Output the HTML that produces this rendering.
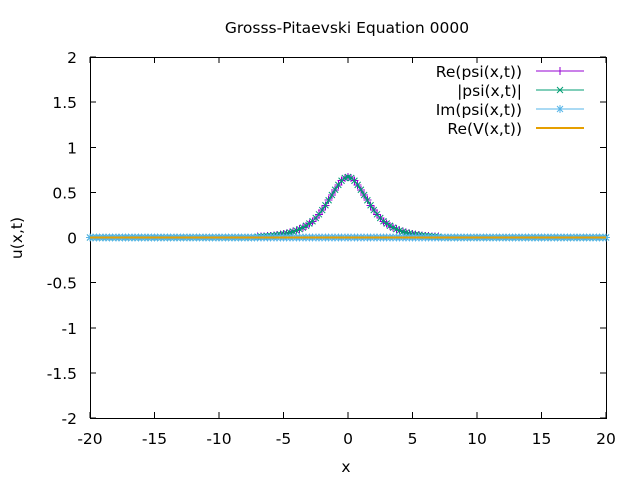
<!DOCTYPE html>
<html><head><meta charset="utf-8"><style>
body{margin:0;background:#fff}
svg{font-family:"DejaVu Sans","Liberation Sans",sans-serif;font-size:15.5px}
</style></head><body>
<svg id="c" width="640" height="480">
<rect width="640" height="480" fill="#fff"/>
<text x="347" y="33" text-anchor="middle">Grosss-Pitaevski Equation 0000</text>
<text x="346" y="472" text-anchor="middle">x</text>
<text x="22" y="238" text-anchor="middle" transform="rotate(-90 22 238)">u(x,t)</text>
<g id="axes" shape-rendering="crispEdges"></g>
<g id="plot" shape-rendering="crispEdges"></g>
<g id="legend" shape-rendering="crispEdges"></g>
</svg>
<script>
const xTicks=[-20,-15,-10,-5,0,5,10,15,20];
const yTicks=[-2,-1.5,-1,-0.5,0,0.5,1,1.5,2];
const yTickLabels=["-2","-1.5","-1","-0.5","0","0.5","1","1.5","2"];
const xDomain=[-20,20], yDomain=[-2,2];
const profileX=[-7,-6.75,-6.5,-6.25,-6,-5.75,-5.5,-5.25,-5,-4.75,-4.5,-4.25,-4,-3.75,-3.5,-3.25,-3,-2.75,-2.5,-2.25,-2,-1.75,-1.5,-1.25,-1,-0.75,-0.5,-0.25,0,0.25,0.5,0.75,1,1.25,1.5,1.75,2,2.25,2.5,2.75,3,3.25,3.5,3.75,4,4.25,4.5,4.75,5,5.25,5.5,5.75,6,6.25,6.5,6.75,7];
const rePsi=[0.009,0.011,0.013,0.015,0.018,0.022,0.026,0.032,0.038,0.045,0.054,0.064,0.077,0.092,0.109,0.130,0.155,0.180,0.216,0.257,0.304,0.357,0.413,0.471,0.529,0.583,0.629,0.659,0.670,0.659,0.629,0.583,0.529,0.471,0.413,0.357,0.304,0.257,0.216,0.180,0.155,0.130,0.109,0.092,0.077,0.064,0.054,0.045,0.038,0.032,0.026,0.022,0.018,0.015,0.013,0.011,0.009];
const absPsi=[0.009,0.011,0.013,0.015,0.018,0.022,0.026,0.032,0.038,0.045,0.054,0.064,0.077,0.092,0.109,0.130,0.155,0.180,0.216,0.257,0.304,0.357,0.413,0.471,0.529,0.583,0.629,0.659,0.670,0.659,0.629,0.583,0.529,0.471,0.413,0.357,0.304,0.257,0.216,0.180,0.155,0.130,0.109,0.092,0.077,0.064,0.054,0.045,0.038,0.032,0.026,0.022,0.018,0.015,0.013,0.011,0.009];
const tailLeftX=[-20,-7], tailRightX=[7,20];
const imPsiLevel=0;
const reV=[0,0];
const L=90,R=606,T=57,B=418;
const sx=v=>L+(v-xDomain[0])/(xDomain[1]-xDomain[0])*(R-L);
const sy=v=>B-(v-yDomain[0])/(yDomain[1]-yDomain[0])*(B-T);
const NS="http://www.w3.org/2000/svg";
function mk(tag,attrs,parent){const e=document.createElementNS(NS,tag);for(const k in attrs)e.setAttribute(k,attrs[k]);parent.appendChild(e);return e;}
const axes=document.getElementById('axes'),plot=document.getElementById('plot'),leg=document.getElementById('legend');
let fr=mk('rect',{x:L+0.5,y:T+0.5,width:R-L,height:B-T,fill:'none',stroke:'#000','stroke-width':1},axes);


xTicks.forEach(t=>{const x=sx(t);
 mk('line',{x1:x,y1:B,x2:x,y2:B-6,stroke:'#000'},axes);mk('line',{x1:x,y1:T,x2:x,y2:T+6,stroke:'#000'},axes);
 const tx=mk('text',{x:x,y:B+26,'text-anchor':'middle'},axes);tx.textContent=t;
 
 });
yTicks.forEach((t,i)=>{const y=sy(t);
 mk('line',{x1:L,y1:y,x2:L+6,y2:y,stroke:'#000'},axes);mk('line',{x1:R,y1:y,x2:R-6,y2:y,stroke:'#000'},axes);
 const tx=mk('text',{x:L-13,y:y+6,'text-anchor':'end'},axes);tx.textContent=yTickLabels[i];
 
 });
function marker(type,x,y,c,g){
 const s=4;
 if(type==='+'||type==='*'){mk('line',{x1:x-s,y1:y,x2:x+s,y2:y,stroke:c},g);mk('line',{x1:x,y1:y-s,x2:x,y2:y+s,stroke:c},g);}
 if(type==='x'||type==='*'){mk('line',{x1:x-s+1,y1:y-s+1,x2:x+s-1,y2:y+s-1,stroke:c,'shape-rendering':'auto'},g);mk('line',{x1:x-s+1,y1:y+s-1,x2:x+s-1,y2:y-s+1,stroke:c,'shape-rendering':'auto'},g);}
}
function series(name,xs,ys,c,type,tails,level){
 const g=mk('g',{},plot);
 
 
 let pts=[];
 if(tails){pts.push([tails[0][0],level]);}
 xs.forEach((x,i)=>pts.push([x,ys[i]]));
 if(tails){pts.push([tails[1][1],level]);}
 mk('polyline',{points:pts.map(p=>sx(p[0])+','+sy(p[1])).join(' '),fill:'none',stroke:c,'stroke-width':1,'shape-rendering':'auto'},g);
 const step=xs.length>1?xs[1]-xs[0]:0.25;
 if(tails){for(let x=tails[0][0];x<tails[0][1]-1e-9;x+=step)marker(type,sx(x),sy(level),c,g);}
 xs.forEach((x,i)=>marker(type,sx(x),sy(ys[i]),c,g));
 if(tails){for(let x=tails[1][0]+step;x<=tails[1][1]+1e-9;x+=step)marker(type,sx(x),sy(level),c,g);}
}
series('series-re-psi',profileX,rePsi,'#9400d3','+',[tailLeftX,tailRightX],0);
series('series-abs-psi',profileX,absPsi,'#009e73','x',[tailLeftX,tailRightX],0);
const imX=[],imY=[];for(let x=-20;x<=20+1e-9;x+=0.25){imX.push(x);imY.push(imPsiLevel);}
series('series-im-psi',imX,imY,'#56b4e9','*',null,0);
let vl=mk('line',{x1:sx(xDomain[0]),y1:sy(reV[0]),x2:sx(xDomain[1]),y2:sy(reV[1]),stroke:'#e69f00','stroke-width':2},plot);


const legItems=[['Re(psi(x,t))','#9400d3','+'],['|psi(x,t)|','#009e73','x'],['Im(psi(x,t))','#56b4e9','*'],['Re(V(x,t))','#e69f00','']];
legItems.forEach((it,i)=>{const y=71+i*19;
 const g=mk('g',{},leg);
 
 
 const t=mk('text',{x:522,y:y+6,'text-anchor':'end'},g);t.textContent=it[0];
 mk('line',{x1:536,y1:y,x2:584,y2:y,stroke:it[1],'stroke-width':it[2]?1:2},g);
 if(it[2])marker(it[2],560,y,it[1],g);});
</script>
</body></html>
